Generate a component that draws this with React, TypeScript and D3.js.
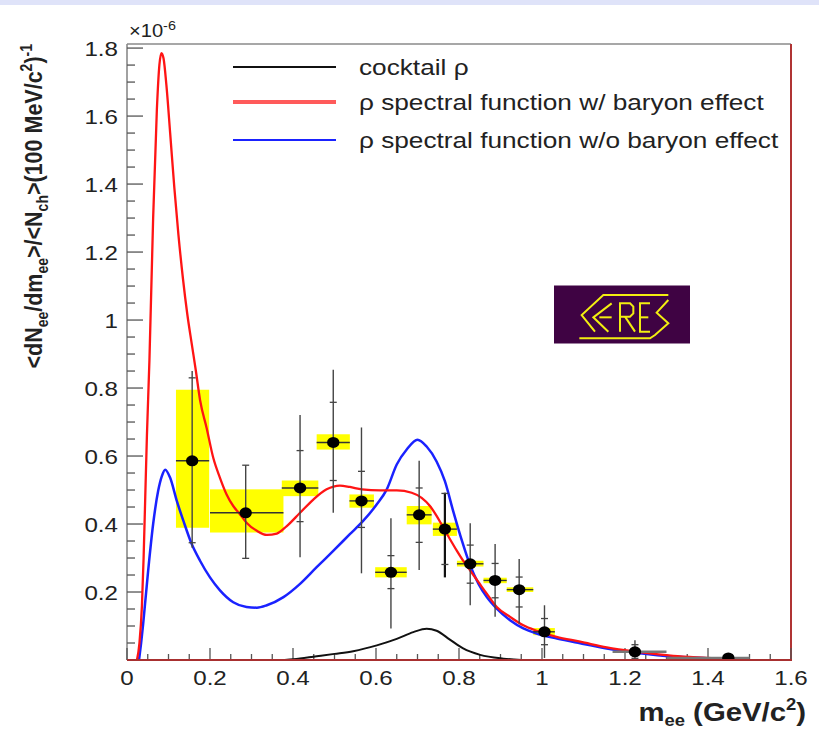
import React from "react";
import * as d3 from "d3";

// Dielectron invariant-mass spectrum (CERES), yields in units of 1e-6
const massCenter = [0.157, 0.286, 0.417, 0.497, 0.565, 0.636, 0.704, 0.766, 0.827, 0.887, 0.945, 1.006, 1.224, 1.449];
const yieldVal = [0.586, 0.433, 0.506, 0.64, 0.468, 0.258, 0.427, 0.385, 0.283, 0.234, 0.207, 0.083, 0.024, 0.006];
const binLo = [0.118, 0.2, 0.373, 0.457, 0.536, 0.598, 0.674, 0.737, 0.795, 0.859, 0.915, 0.979, 1.17, 1.3];
const binHi = [0.198, 0.377, 0.461, 0.537, 0.595, 0.674, 0.734, 0.795, 0.859, 0.915, 0.979, 1.031, 1.3, 1.5];
const sysLo = [0.389, 0.375, 0.482, 0.619, 0.448, 0.243, 0.399, 0.365, 0.275, 0.226, 0.2, 0.073, 0.018, 0.002];
const sysHi = [0.795, 0.502, 0.528, 0.664, 0.487, 0.273, 0.453, 0.404, 0.292, 0.242, 0.214, 0.094, 0.03, 0.009];
const errLo = [0.33, 0.299, 0.302, 0.433, 0.255, 0.093, 0.265, 0.243, 0.161, 0.127, 0.107, 0.006, 0.0, 0.0];
const errHi = [0.85, 0.573, 0.721, 0.854, 0.684, 0.417, 0.586, 0.492, 0.402, 0.341, 0.297, 0.161, 0.058, 0.02];
const statLo = [0.345, 0.299, 0.407, 0.528, 0.39, 0.21, 0.346, 0.281, 0.226, 0.183, 0.156, 0.045, 0.005, 0.0];
const statHi = [0.83, 0.573, 0.616, 0.758, 0.555, 0.307, 0.506, 0.49, 0.338, 0.284, 0.244, 0.122, 0.045, 0.015];

// Model curves: [mass GeV/c^2, yield]
const cocktailRho: [number, number][] = [
  [0.38, 0], [0.401, 0.002], [0.457, 0.011], [0.5, 0.018], [0.545, 0.026], [0.602, 0.043], [0.65, 0.062],
  [0.69, 0.082], [0.722, 0.092], [0.746, 0.086], [0.778, 0.06], [0.81, 0.034], [0.851, 0.015], [0.907, 0.004], [0.95, 0],
];
const withBaryon: [number, number][] = [
  [0.024, 0], [0.03, 0.05], [0.036, 0.16], [0.04, 0.3], [0.044, 0.48], [0.048, 0.66], [0.054, 0.88], [0.063, 1.3],
  [0.072, 1.62], [0.078, 1.75], [0.083, 1.785], [0.088, 1.77], [0.095, 1.69], [0.104, 1.55], [0.114, 1.39],
  [0.124, 1.25], [0.135, 1.12], [0.145, 1.02], [0.156, 0.93], [0.166, 0.85], [0.176, 0.765], [0.192, 0.682],
  [0.208, 0.594], [0.224, 0.536], [0.24, 0.487], [0.256, 0.453], [0.272, 0.429], [0.288, 0.404], [0.313, 0.38],
  [0.337, 0.368], [0.361, 0.372], [0.385, 0.394], [0.417, 0.433], [0.449, 0.472], [0.481, 0.502], [0.513, 0.513],
  [0.537, 0.509], [0.566, 0.502], [0.61, 0.499], [0.65, 0.499], [0.686, 0.492], [0.71, 0.477], [0.73, 0.453],
  [0.746, 0.424], [0.762, 0.39], [0.778, 0.356], [0.795, 0.321], [0.81, 0.292], [0.827, 0.263], [0.847, 0.229],
  [0.867, 0.195], [0.891, 0.156], [0.923, 0.127], [0.955, 0.102], [0.987, 0.086], [1.035, 0.068], [1.092, 0.054],
  [1.156, 0.037], [1.236, 0.023], [1.316, 0.012], [1.397, 0.006], [1.485, 0],
];
const withoutBaryon: [number, number][] = [
  [0.029, 0], [0.034, 0.05], [0.039, 0.107], [0.051, 0.263], [0.063, 0.4], [0.075, 0.497], [0.084, 0.541],
  [0.092, 0.56], [0.104, 0.536], [0.12, 0.468], [0.136, 0.409], [0.156, 0.341], [0.176, 0.292], [0.2, 0.243],
  [0.224, 0.205], [0.256, 0.17], [0.288, 0.156], [0.313, 0.154], [0.337, 0.161], [0.377, 0.185], [0.417, 0.224],
  [0.457, 0.273], [0.497, 0.321], [0.537, 0.37], [0.569, 0.409], [0.602, 0.458], [0.626, 0.502], [0.65, 0.575],
  [0.674, 0.619], [0.7, 0.648], [0.722, 0.628], [0.746, 0.584], [0.766, 0.526], [0.786, 0.438], [0.807, 0.351],
  [0.827, 0.278], [0.847, 0.224], [0.867, 0.185], [0.891, 0.151], [0.923, 0.117], [0.955, 0.093], [0.987, 0.078],
  [1.036, 0.063], [1.092, 0.049], [1.156, 0.034], [1.236, 0.02], [1.316, 0.01], [1.397, 0.005], [1.485, 0],
];

const xTickLabels = ["0", "0.2", "0.4", "0.6", "0.8", "1", "1.2", "1.4", "1.6"];
const yTickLabels = ["0.2", "0.4", "0.6", "0.8", "1", "1.2", "1.4", "1.6", "1.8"];
const legendLabels = ["cocktail \u03c1", "\u03c1 spectral function w/ baryon effect", "\u03c1 spectral function w/o baryon effect"];

const W = 819;
const H = 731;
const left = 127;
const right = 791;
const top = 44;
const bottom = 660;
const SX = 1.15; // horizontal text stretch

const x = d3.scaleLinear().domain([0, 1.6]).range([left, right]);
const y = d3.scaleLinear().domain([0, 1.812]).range([bottom, top]);

const FONT = "'Liberation Sans', Arial, Helvetica, sans-serif";

function StretchText(props: { x: number; y: number; anchor?: string; size: number; bold?: boolean; fill?: string; children: React.ReactNode; rotate?: number }) {
  const { x: tx, y: ty, anchor = "start", size, bold, fill = "#222", children, rotate } = props;
  return (
    <g transform={`translate(${tx},${ty}) scale(${SX},1)${rotate ? ` rotate(${rotate})` : ""}`}>
      <text x={0} y={0} textAnchor={anchor} fontSize={size} fontWeight={bold ? "bold" : "normal"} fill={fill} fontFamily={FONT}>
        {children}
      </text>
    </g>
  );
}

function CeresLogo() {
  // strokes in a 3x local grid, origin at (540, 270)
  const strokes: [number, number][][] = [
    [[118, 205], [330, 205], [345, 195], [385, 160], [350, 128], [385, 90]],
    [[385, 75], [190, 75], [125, 135], [165, 185]],
    [[215, 100], [160, 142], [205, 185]],
    [[178, 142], [215, 142]],
    [[240, 185], [240, 100], [270, 100], [280, 110], [280, 130], [270, 140], [240, 140]],
    [[255, 140], [285, 185]],
    [[330, 100], [300, 100], [300, 185], [330, 185]],
    [[300, 142], [325, 142]],
  ];
  const line = d3.line<[number, number]>().x((p) => 540 + p[0] / 3).y((p) => 270 + p[1] / 3);
  return (
    <g>
      <rect x={554} y={285.5} width={136} height={58} fill="#3f0343" />
      {strokes.map((s, i) => (
        <path key={i} d={line(s) ?? ""} fill="none" stroke="#f2ee10" strokeWidth={2} strokeLinejoin="miter" />
      ))}
    </g>
  );
}

export default function App() {
  const curve = d3.line<[number, number]>().x((d) => x(d[0])).y((d) => y(d[1])).curve(d3.curveMonotoneX);

  const xMinor = d3.range(0, 1.6001, 0.05);
  const yMinor = d3.range(0, 1.8001, 0.05);

  return (
    <svg width={W} height={H} style={{ display: "block", position: "absolute", left: 0, top: 0 }}>
      <rect x={0} y={0} width={W} height={H} fill="#ffffff" />
      <rect x={0} y={0} width={W} height={5} fill="#dfe3f9" />

      <defs>
        <clipPath id="plotClip">
          <rect x={left} y={top} width={right - left} height={bottom - top} />
        </clipPath>
      </defs>

      {/* frame */}
      <line x1={left} y1={top} x2={right} y2={top} stroke="#8a8a8a" strokeWidth={1.6} />
      <line x1={left} y1={top} x2={left} y2={bottom} stroke="#8a8a8a" strokeWidth={1.6} />
      <line x1={right} y1={top} x2={right} y2={bottom} stroke="#b03434" strokeWidth={2} />

      {/* x ticks */}
      {xMinor.map((v, i) => {
        const major = i % 4 === 0;
        return <line key={"xt" + i} x1={x(v)} x2={x(v)} y1={bottom} y2={bottom - (major ? 12 : 6)} stroke="#555" strokeWidth={1.3} />;
      })}
      {/* y ticks */}
      {yMinor.map((v, i) => {
        const major = i % 4 === 0;
        return <line key={"yt" + i} x1={left} x2={left + (major ? 16 : 8)} y1={y(v)} y2={y(v)} stroke="#555" strokeWidth={1.3} />;
      })}

      {/* tick labels */}
      {xTickLabels.map((t) => (
        <StretchText key={"xl" + t} x={x(+t)} y={685} anchor="middle" size={21}>{t}</StretchText>
      ))}
      {yTickLabels.map((t) => (
        <StretchText key={"yl" + t} x={118} y={y(+t) + 7.5} anchor="end" size={21}>{t}</StretchText>
      ))}
      <StretchText x={129} y={37} size={17.5}>
        {"\u00d710"}
        <tspan dy={-7} fontSize={12.5}>-6</tspan>
      </StretchText>

      {/* axis titles */}
      <StretchText x={42} y={44} anchor="end" size={21.5} bold rotate={-90}>
        {"<dN"}
        <tspan dy={5} fontSize={14}>ee</tspan>
        <tspan dy={-5}>/dm</tspan>
        <tspan dy={5} fontSize={14}>ee</tspan>
        <tspan dy={-5}>{">/<N"}</tspan>
        <tspan dy={5} fontSize={14}>ch</tspan>
        <tspan dy={-5}>{">(100 MeV/c"}</tspan>
        <tspan dy={-9} fontSize={14}>2</tspan>
        <tspan dy={9}>)</tspan>
        <tspan dy={-9} fontSize={14}>-1</tspan>
      </StretchText>
      <StretchText x={806} y={721} anchor="end" size={25.5} bold>
        {"m"}
        <tspan dy={5} fontSize={16}>ee</tspan>
        <tspan dy={-5}>{" (GeV/c"}</tspan>
        <tspan dy={-11} fontSize={16}>2</tspan>
        <tspan dy={11}>)</tspan>
      </StretchText>

      <g clipPath="url(#plotClip)">
        {/* systematic boxes */}
        {massCenter.map((m, i) => (
          <rect key={"sys" + i} x={x(binLo[i])} width={x(binHi[i]) - x(binLo[i])} y={y(sysHi[i])} height={Math.max(1.5, y(sysLo[i]) - y(sysHi[i]))} fill="#ffff00" opacity={i >= 12 ? 0 : 1} />
        ))}

        {/* curves */}
        <path d={curve(cocktailRho) ?? ""} fill="none" stroke="#111" strokeWidth={2} />
        <path d={curve(withoutBaryon) ?? ""} fill="none" stroke="#1a22ff" strokeWidth={2.5} />
        <path d={curve(withBaryon) ?? ""} fill="none" stroke="#ff1414" strokeWidth={2.3} />

        {/* data points */}
        {massCenter.map((m, i) => {
          const cx = x(m);
          const thick = i === 7 ? 2.2 : 1.4;
          return (
            <g key={"pt" + i}>
              <line x1={x(binLo[i])} x2={x(binHi[i])} y1={y(yieldVal[i])} y2={y(yieldVal[i])} stroke={i >= 12 ? "#777" : "#333"} strokeWidth={i >= 12 ? 2.5 : 1.4} />
              <line x1={cx} x2={cx} y1={y(errHi[i])} y2={y(errLo[i])} stroke={i === 7 ? "#111" : "#444"} strokeWidth={thick} />
              <line x1={cx - 3.5} x2={cx + 3.5} y1={y(statHi[i])} y2={y(statHi[i])} stroke="#444" strokeWidth={1.3} />
              <line x1={cx - 3.5} x2={cx + 3.5} y1={y(statLo[i])} y2={y(statLo[i])} stroke="#444" strokeWidth={1.3} />
              <ellipse cx={cx} cy={y(yieldVal[i])} rx={6.2} ry={5.5} fill="#000" />
            </g>
          );
        })}
      </g>

      {/* bottom axis line on top */}
      <line x1={left} y1={bottom} x2={right + 1} y2={bottom} stroke="#a83030" strokeWidth={2.2} />

      {/* legend */}
      {legendLabels.map((lab, i) => {
        const ly = [67, 102, 140][i];
        const col = ["#111", "#ff5a5a", "#1a22ff"][i];
        const sw = [1.8, 4, 2.2][i];
        return (
          <g key={"lg" + i}>
            <line x1={233} x2={336} y1={ly} y2={ly} stroke={col} strokeWidth={sw} />
            <StretchText x={359} y={ly + 7.5} size={22.8}>{lab}</StretchText>
          </g>
        );
      })}

      <CeresLogo />
    </svg>
  );
}
